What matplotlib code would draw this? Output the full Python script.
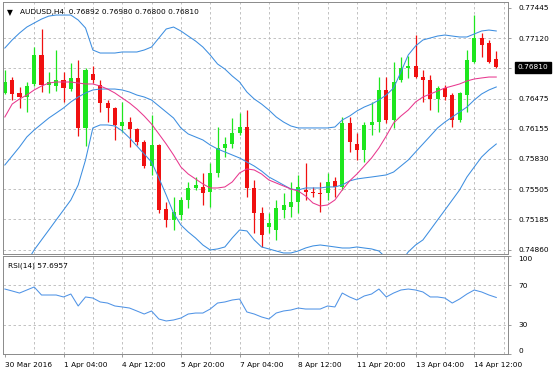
import numpy as np
import matplotlib.pyplot as plt
import matplotlib.transforms as mtransforms

plt.rcParams['font.family'] = 'DejaVu Sans'

# AUDUSD H4 candles
opens = [0.76534, 0.76672, 0.76534, 0.76491, 0.76630, 0.76939, 0.76619, 0.76608, 0.76672, 0.76576,
         0.76694, 0.76161, 0.76736, 0.76619, 0.76427, 0.76374, 0.76182, 0.76224, 0.76150, 0.76011,
         0.75755, 0.75979, 0.75297, 0.75180, 0.75233, 0.75393, 0.75521, 0.75532, 0.75478, 0.75681,
         0.75947, 0.75990, 0.76107, 0.76171, 0.75521, 0.75254, 0.75105, 0.75073, 0.75286, 0.75318,
         0.75372, 0.75500, 0.75478, 0.75468, 0.75468, 0.75596, 0.75532, 0.76214, 0.75990, 0.75926,
         0.76193, 0.76224, 0.76566, 0.76246, 0.76672, 0.76800, 0.76821, 0.76704, 0.76672, 0.76470,
         0.76587, 0.76512, 0.76246, 0.76512, 0.76864, 0.77120, 0.77067, 0.76892]
highs = [0.76779, 0.76704, 0.76598, 0.76651, 0.77024, 0.77216, 0.76757, 0.76992, 0.76757, 0.76853,
         0.76885, 0.76800, 0.76821, 0.76672, 0.76459, 0.76384, 0.76438, 0.76278, 0.76161, 0.76033,
         0.76299, 0.75990, 0.75372, 0.75425, 0.75425, 0.75585, 0.75638, 0.75681, 0.75787, 0.76171,
         0.76065, 0.76267, 0.76320, 0.76352, 0.75606, 0.75318, 0.75254, 0.75393, 0.75468, 0.75585,
         0.75660, 0.75787, 0.75532, 0.75585, 0.75681, 0.75638, 0.76278, 0.76278, 0.76107, 0.76224,
         0.76438, 0.76704, 0.76704, 0.76864, 0.76917, 0.76928, 0.77152, 0.76779, 0.76726, 0.76608,
         0.76619, 0.76534, 0.76544, 0.76992, 0.77365, 0.77173, 0.77099, 0.76980]
lows = [0.76523, 0.76459, 0.76374, 0.76331, 0.76608, 0.76544, 0.76534, 0.76555, 0.76438, 0.76555,
        0.76075, 0.75969, 0.76640, 0.76331, 0.76224, 0.76033, 0.76118, 0.75958, 0.75979, 0.75734,
        0.75660, 0.75254, 0.75105, 0.75073, 0.75180, 0.75308, 0.75500, 0.75340, 0.75318, 0.75638,
        0.75851, 0.75947, 0.76086, 0.75425, 0.75041, 0.74892, 0.75041, 0.74967, 0.75201, 0.75212,
        0.75254, 0.75393, 0.75425, 0.75265, 0.75393, 0.75425, 0.75500, 0.75905, 0.75819, 0.75798,
        0.76086, 0.76118, 0.76214, 0.76161, 0.76651, 0.76694, 0.76694, 0.76438, 0.76352, 0.76331,
        0.76459, 0.76171, 0.76224, 0.76331, 0.76853, 0.76917, 0.76853, 0.76800]
closes = [0.76651, 0.76523, 0.76491, 0.76608, 0.76939, 0.76619, 0.76651, 0.76672, 0.76587, 0.76694,
          0.76161, 0.76779, 0.76672, 0.76427, 0.76374, 0.76193, 0.76224, 0.76150, 0.76011, 0.75755,
          0.75979, 0.75286, 0.75180, 0.75265, 0.75393, 0.75521, 0.75553, 0.75468, 0.75681, 0.75947,
          0.75990, 0.76107, 0.76171, 0.75521, 0.75254, 0.75020, 0.75148, 0.75308, 0.75340, 0.75372,
          0.75532, 0.75478, 0.75468, 0.75457, 0.75585, 0.75532, 0.76214, 0.76011, 0.75926, 0.76193,
          0.76224, 0.76566, 0.76246, 0.76651, 0.76800, 0.76821, 0.76704, 0.76672, 0.76470, 0.76587,
          0.76491, 0.76246, 0.76534, 0.76885, 0.77120, 0.77045, 0.76864, 0.76810]

# Bollinger bands (blue) and moving average (pink)
bb_upper = [0.77013, 0.77099, 0.77173, 0.77237, 0.77280, 0.77322, 0.77354, 0.77365, 0.77365, 0.77365,
            0.77312, 0.77227, 0.76992, 0.76960, 0.76960, 0.76960, 0.76971, 0.76971, 0.76971, 0.76992,
            0.77024, 0.77120, 0.77216, 0.77237, 0.77195, 0.77141, 0.77088, 0.77024, 0.76939, 0.76843,
            0.76789, 0.76715, 0.76651, 0.76544, 0.76470, 0.76416, 0.76352, 0.76278, 0.76224, 0.76182,
            0.76161, 0.76161, 0.76161, 0.76161, 0.76161, 0.76171, 0.76246, 0.76288, 0.76342, 0.76384,
            0.76416, 0.76459, 0.76512, 0.76587, 0.76758, 0.76939, 0.77035, 0.77099, 0.77120, 0.77141,
            0.77152, 0.77141, 0.77131, 0.77131, 0.77163, 0.77195, 0.77205, 0.77195]
bb_mid = [0.75766, 0.75862, 0.75958, 0.76065, 0.76139, 0.76203, 0.76267, 0.76320, 0.76374, 0.76438,
          0.76491, 0.76534, 0.76566, 0.76576, 0.76576, 0.76576, 0.76566, 0.76544, 0.76512, 0.76491,
          0.76459, 0.76395, 0.76331, 0.76267, 0.76161, 0.76097, 0.76065, 0.76033, 0.75979, 0.75937,
          0.75905, 0.75873, 0.75841, 0.75798, 0.75755, 0.75702, 0.75638, 0.75596, 0.75553, 0.75510,
          0.75500, 0.75521, 0.75521, 0.75521, 0.75532, 0.75532, 0.75553, 0.75596, 0.75617, 0.75628,
          0.75638, 0.75649, 0.75660, 0.75691, 0.75755, 0.75819, 0.75905, 0.75990, 0.76075, 0.76161,
          0.76224, 0.76278, 0.76331, 0.76384, 0.76459, 0.76523, 0.76566, 0.76598]
bb_lower = [0.74487, 0.74562, 0.74647, 0.74732, 0.74860, 0.74967, 0.75073, 0.75180, 0.75286, 0.75393,
            0.75553, 0.75819, 0.76161, 0.76193, 0.76193, 0.76182, 0.76129, 0.76054, 0.75969, 0.75883,
            0.75798, 0.75628, 0.75446, 0.75254, 0.75127, 0.75052, 0.74988, 0.74913, 0.74860, 0.74871,
            0.74892, 0.74988, 0.75073, 0.75063, 0.74967, 0.74892, 0.74871, 0.74849, 0.74828, 0.74828,
            0.74849, 0.74881, 0.74903, 0.74913, 0.74903, 0.74892, 0.74881, 0.74881, 0.74892, 0.74881,
            0.74871, 0.74849, 0.74775, 0.74732, 0.74732, 0.74839, 0.74913, 0.74967, 0.75073, 0.75180,
            0.75286, 0.75393, 0.75500, 0.75638, 0.75745, 0.75851, 0.75926, 0.75990]
ma_pink = [0.76278, 0.76416, 0.76470, 0.76512, 0.76566, 0.76608, 0.76640, 0.76651, 0.76651, 0.76651,
           0.76640, 0.76630, 0.76630, 0.76608, 0.76576, 0.76534, 0.76480, 0.76427, 0.76363, 0.76288,
           0.76203, 0.76097, 0.75990, 0.75873, 0.75745, 0.75670, 0.75617, 0.75564, 0.75521, 0.75521,
           0.75532, 0.75585, 0.75681, 0.75724, 0.75713, 0.75670, 0.75606, 0.75574, 0.75542, 0.75510,
           0.75489, 0.75436, 0.75361, 0.75329, 0.75340, 0.75393, 0.75500, 0.75596, 0.75670, 0.75755,
           0.75841, 0.75947, 0.76075, 0.76214, 0.76288, 0.76352, 0.76438, 0.76491, 0.76523, 0.76555,
           0.76587, 0.76608, 0.76630, 0.76662, 0.76683, 0.76694, 0.76704, 0.76704]

rsi = [66.3, 64.3, 62.2, 65.3, 68.4, 60.2, 60.2, 60.2, 58.2, 61.2,
       49.0, 58.2, 57.1, 53.1, 52.0, 49.0, 48.0, 46.9, 43.9, 40.8,
       43.9, 35.7, 33.7, 34.7, 36.7, 40.8, 41.8, 41.8, 45.9, 52.0,
       53.1, 55.1, 56.1, 42.9, 40.8, 37.8, 35.7, 41.8, 43.9, 44.9,
       46.9, 45.9, 45.9, 45.9, 49.0, 48.0, 62.2, 58.2, 55.1, 59.2,
       61.2, 66.3, 58.2, 62.2, 65.3, 66.3, 65.3, 63.3, 58.2, 58.2,
       57.1, 52.0, 56.1, 61.2, 65.3, 63.3, 60.2, 57.6957]

price_ticks = [0.77445, 0.77120, 0.76800, 0.76475, 0.76155, 0.75830, 0.75505, 0.75185, 0.74860]
price_labels = ['0.77445', '0.77120', '', '0.76475', '0.76155', '0.75830', '0.75505', '0.75185', '0.74860']
date_bars = [0, 8, 16, 24, 32, 40, 48, 56, 64]
date_labels = ['30 Mar 2016', '1 Apr 04:00', '4 Apr 12:00', '5 Apr 20:00', '7 Apr 04:00',
               '8 Apr 12:00', '11 Apr 20:00', '13 Apr 04:00', '14 Apr 12:00']
rsi_ticks = [100, 70, 30, 0]

W, H = 553, 374
FS = 5.3
GRID = '#b8b8b8'
BULL, BEAR = '#1ee61e', '#f01010'
BLUE, PINK = '#3d8ee0', '#e8378e'


def box(x0, y0, x1, y1):
    return [x0 / W, 1 - y1 / H, (x1 - x0) / W, (y1 - y0) / H]


fig = plt.figure(figsize=(W / 100, H / 100), dpi=100)
ax = fig.add_axes(box(3, 2, 508, 254))
ax2 = fig.add_axes(box(3, 256, 508, 354))

o, h, l, c = map(np.array, (opens, highs, lows, closes))
idx = np.arange(len(c))
cols = [BULL if cc >= oo else BEAR for oo, cc in zip(o, c)]
body = np.maximum(np.abs(c - o), 0.00009)

ax.vlines(idx, l, h, colors=cols, lw=0.9, zorder=2)
ax.bar(idx, body, bottom=np.minimum(o, c), width=0.55, color=cols, lw=0, zorder=2)

for band in (bb_upper, bb_mid, bb_lower):
    ax.plot(idx, band, color=BLUE, lw=0.75, zorder=3)
ax.plot(idx, ma_pink, color=PINK, lw=0.75, zorder=3)

x_lim = (-0.25, 68.6)
grid_bars = np.arange(4, len(c) + 1, 4)
for a in (ax, ax2):
    a.set_xlim(*x_lim)
    for gx in grid_bars:
        a.axvline(gx, color=GRID, lw=0.6, ls=(0, (3, 3)), zorder=0)
    for s in a.spines.values():
        s.set_color('#8a8a8a')
        s.set_linewidth(0.7)
    a.yaxis.tick_right()
    a.tick_params(axis='y', length=2.5, width=0.6, color='#8a8a8a', pad=5, labelsize=FS)

ax.set_ylim(0.74817, 0.77504)
for p in price_ticks[1:]:
    ax.axhline(p, color=GRID, lw=0.6, ls=(0, (3, 3)), zorder=0)
ax.set_yticks(price_ticks)
ax.set_yticklabels(price_labels)
ax.set_xticks([])

# current price tag
tr = mtransforms.blended_transform_factory(ax.transAxes, ax.transData)
ax.text(1.019, closes[-1], '0.76810', transform=tr, color='white', fontsize=FS,
        va='center', ha='left',
        bbox=dict(boxstyle='square,pad=0.35', fc='black', ec='black'))

ax.text(0.008, 0.960, '\u25bc', transform=ax.transAxes, fontsize=5.5, va='center', ha='left')
ax.text(0.034, 0.960, 'AUDUSD,H4  0.76892 0.76980 0.76800 0.76810', transform=ax.transAxes,
        fontsize=FS, va='center', ha='left')

# RSI panel
ax2.plot(idx, rsi, color='#4f93e6', lw=0.75)
ax2.set_ylim(0, 100)
for lv in (70, 30):
    ax2.axhline(lv, color=GRID, lw=0.6, ls=(0, (3, 3)), zorder=0)
ax2.set_yticks(rsi_ticks)
ax2.set_yticklabels([str(v) for v in rsi_ticks])
tl = ax2.get_yticklabels()
tl[0].set_va('top')
tl[-1].set_va('bottom')
ax2.set_xticks(date_bars)
ax2.set_xticklabels(date_labels, ha='left', fontsize=FS)
ax2.tick_params(axis='x', length=2.5, width=0.6, color='#8a8a8a', pad=3)
ax2.text(0.01, 0.905, 'RSI(14) 57.6957', transform=ax2.transAxes, fontsize=FS, va='center', ha='left')

fig.savefig('out.png', dpi=100)
